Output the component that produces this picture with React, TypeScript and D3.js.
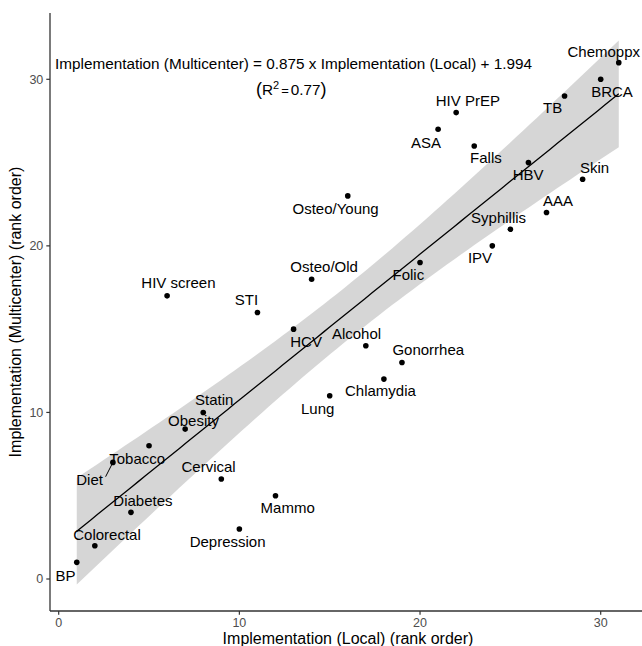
import React from 'react';
import * as d3 from 'd3';

// screening / prevention items, rank order
const items = [
  'BP', 'Colorectal', 'Diet', 'Diabetes', 'Tobacco', 'HIV screen', 'Obesity', 'Statin',
  'Cervical', 'Depression', 'STI', 'Mammo', 'HCV', 'Osteo/Old', 'Lung', 'Osteo/Young',
  'Alcohol', 'Chlamydia', 'Gonorrhea', 'Folic', 'ASA', 'HIV PrEP', 'Falls', 'IPV',
  'Syphillis', 'HBV', 'AAA', 'TB', 'Skin', 'BRCA', 'Chemoppx',
];
const localRank = [1, 2, 3, 4, 5, 6, 7, 8, 9, 10, 11, 12, 13, 14, 15, 16, 17, 18, 19, 20, 21, 22, 23, 24, 25, 26, 27, 28, 29, 30, 31];
const multiRank = [1, 2, 7, 4, 8, 17, 9, 10, 6, 3, 16, 5, 15, 18, 11, 23, 14, 12, 13, 19, 27, 28, 26, 20, 21, 25, 22, 29, 24, 30, 31];

const xTicks = [0, 10, 20, 30];
const yTicks = [0, 10, 20, 30];

// label placement (px relative to the point), like ggrepel put them
const labelOffsets: [number, number][] = [
  [-11.3, 18.3], [12.2, -6], [-23.3, 22.6], [12, -6], [-11.8, 18.3], [11.3, -7.4], [8.3, -2.6], [11, -7.3],
  [-12.7, -6.6], [-11.8, 17.7], [-11, -7.3], [12.2, 17.7], [12.5, 17.7], [12.5, -6.7], [-12, 18], [-12.2, 18.3],
  [-9.3, -6.7], [-3.5, 17], [26.3, -7.3], [-11.7, 17.7], [-12.2, 18.3], [11.7, -6.7], [11.7, 17.3], [-12.3, 17.6],
  [-11.8, -6.7], [-0.3, 17.3], [11.6, -6.3], [-12, 17.3], [12, -6.3], [11.3, 18], [-15, -6],
];

const font = '"Liberation Sans", Arial, sans-serif';

export default function App() {
  const x = d3.scaleLinear().domain([0, 30]).range([58.7, 600.7]);
  const y = d3.scaleLinear().domain([0, 30]).range([579, 79.3]);
  const left = 50, bottom = 611, top = 13, right = 646;

  const pts = items.map((name, i) => ({ name, lx: localRank[i], my: multiRank[i] }));

  // linear fit + 95% confidence band (geom_smooth(method = "lm"))
  const n = pts.length;
  const mx = d3.mean(pts, d => d.lx)!;
  const my = d3.mean(pts, d => d.my)!;
  const sxx = d3.sum(pts, d => (d.lx - mx) ** 2);
  const sxy = d3.sum(pts, d => (d.lx - mx) * (d.my - my));
  const slope = sxy / sxx;
  const icpt = my - slope * mx;
  const sse = d3.sum(pts, d => (d.my - (icpt + slope * d.lx)) ** 2);
  const s = Math.sqrt(sse / (n - 2));
  const tq = 2.045; // qt(0.975, 29)
  const [x0, x1] = d3.extent(pts, d => d.lx) as [number, number];
  const grid = d3.range(80).map(i => x0 + (i * (x1 - x0)) / 79);
  const band = grid.map(v => {
    const fit = icpt + slope * v;
    const se = s * Math.sqrt(1 / n + (v - mx) ** 2 / sxx);
    return { v, fit, lo: fit - tq * se, hi: fit + tq * se };
  });

  const area = d3.area<typeof band[0]>()
    .x(d => x(d.v))
    .y0(d => y(d.lo))
    .y1(d => y(d.hi));
  const line = d3.line<typeof band[0]>()
    .x(d => x(d.v))
    .y(d => y(d.fit));

  const dietIdx = items.indexOf('Diet');

  return (
    <svg width={642} height={646} style={{ position: 'absolute', left: 0, top: 0 }} fontFamily={font}>
      <rect width={642} height={646} fill="#fff" />
      <path d={area(band)!} fill="#999999" fillOpacity={0.4} />
      <path d={line(band)!} fill="none" stroke="#000" strokeWidth={1.3} />

      {/* Diet leader segment */}
      <line
        x1={x(pts[dietIdx].lx)} y1={y(pts[dietIdx].my)}
        x2={x(pts[dietIdx].lx) - 7.3} y2={y(pts[dietIdx].my) + 14.3}
        stroke="#000" strokeWidth={1}
      />

      {pts.map(d => (
        <circle key={d.name} cx={x(d.lx)} cy={y(d.my)} r={2.8} fill="#000" />
      ))}
      {pts.map((d, i) => (
        <text key={'l' + d.name} x={x(d.lx) + labelOffsets[i][0]} y={y(d.my) + labelOffsets[i][1]}
          textAnchor="middle" fontSize={15} fill="#000">{d.name}</text>
      ))}

      {/* annotation */}
      <text x={55} y={69.3} fontSize={15.3} fill="#000">
        Implementation (Multicenter) = 0.875 x Implementation (Local) + 1.994
      </text>
      <text x={256} y={95} fontSize={15.3} fill="#000">
        <tspan fontSize={18}>(</tspan>
        <tspan>R</tspan>
        <tspan fontSize={11} dy={-6.5}>2</tspan>
        <tspan dy={6.5} dx={2} fontSize={13}>=</tspan>
        <tspan dx={2}>0.77</tspan>
        <tspan fontSize={18}>)</tspan>
      </text>

      {/* axes */}
      <line x1={left} x2={left} y1={top} y2={bottom} stroke="#333" strokeWidth={1.3} />
      <line x1={left} x2={right} y1={bottom} y2={bottom} stroke="#333" strokeWidth={1.3} />
      {xTicks.map(t => (
        <g key={'x' + t}>
          <line x1={x(t)} x2={x(t)} y1={bottom} y2={bottom + 3.7} stroke="#333" strokeWidth={1.2} />
          <text x={x(t)} y={626.5} textAnchor="middle" fontSize={12.5} fill="#4d4d4d">{t}</text>
        </g>
      ))}
      {yTicks.map(t => (
        <g key={'y' + t}>
          <line x1={left - 3.7} x2={left} y1={y(t)} y2={y(t)} stroke="#333" strokeWidth={1.2} />
          <text x={43.3} y={y(t) + 4.4} textAnchor="end" fontSize={12.5} fill="#4d4d4d">{t}</text>
        </g>
      ))}
      <text x={348} y={643.5} textAnchor="middle" fontSize={16} fill="#000">
        Implementation (Local) (rank order)
      </text>
      <text transform={`translate(21,312) rotate(-90)`} textAnchor="middle" fontSize={16} fill="#000">
        Implementation (Multicenter) (rank order)
      </text>
    </svg>
  );
}
